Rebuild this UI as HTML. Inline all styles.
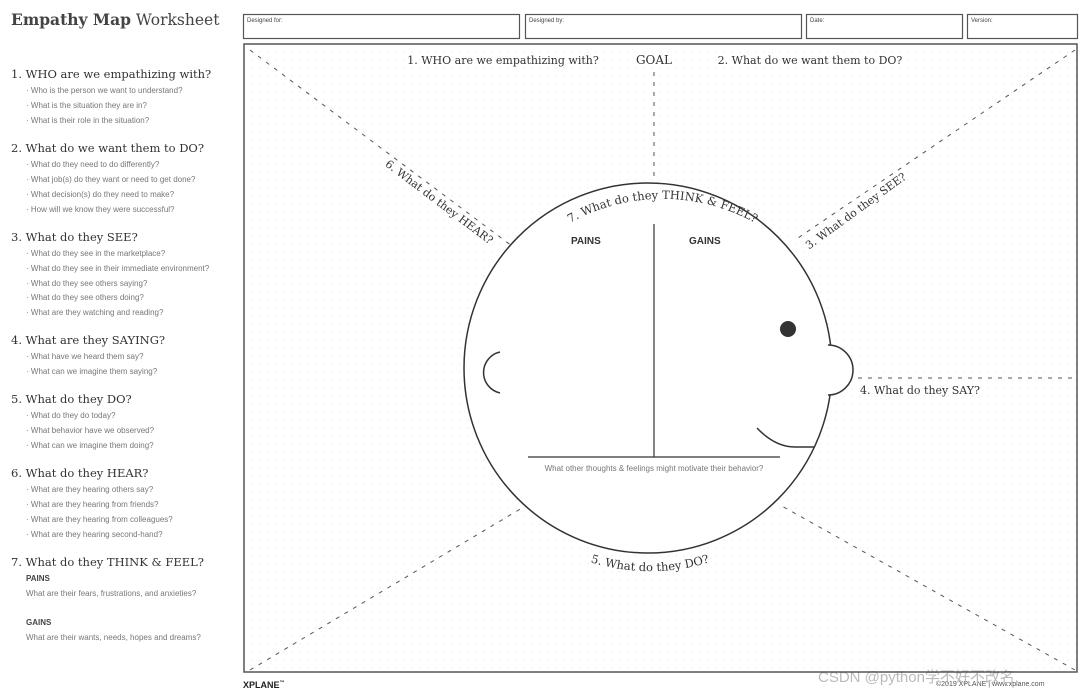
<!DOCTYPE html>
<html><head><meta charset="utf-8"><style>
body{margin:0;width:1087px;height:696px;background:#fff;position:relative;overflow:hidden;font-family:"Liberation Sans",sans-serif;color:#333}
.a{position:absolute;white-space:nowrap}
.h{font-family:"DejaVu Serif","Liberation Serif",serif;font-size:11.5px;color:#333}
.s{font-size:8px;color:#777}
.b{font-size:8px;color:#444;font-weight:bold}
</style></head><body>
<div class="a" style="left:11px;top:10px;font-family:'DejaVu Serif',serif;font-size:15.5px;color:#444"><b style="font-weight:600">Empathy Map</b> <span style="font-weight:300">Worksheet</span></div>

<div class="a h" style="left:11px;top:67px">1. WHO are we empathizing with?</div>
<div class="a s" style="left:26px;top:86px">· Who is the person we want to understand?</div>
<div class="a s" style="left:26px;top:101px">· What is the situation they are in?</div>
<div class="a s" style="left:26px;top:116px">· What is their role in the situation?</div>

<div class="a h" style="left:11px;top:141px">2. What do we want them to DO?</div>
<div class="a s" style="left:26px;top:160px">· What do they need to do differently?</div>
<div class="a s" style="left:26px;top:175px">· What job(s) do they want or need to get done?</div>
<div class="a s" style="left:26px;top:190px">· What decision(s) do they need to make?</div>
<div class="a s" style="left:26px;top:205px">· How will we know they were successful?</div>

<div class="a h" style="left:11px;top:230px">3. What do they SEE?</div>
<div class="a s" style="left:26px;top:249px">· What do they see in the marketplace?</div>
<div class="a s" style="left:26px;top:264px">· What do they see in their immediate environment?</div>
<div class="a s" style="left:26px;top:279px">· What do they see others saying?</div>
<div class="a s" style="left:26px;top:293px">· What do they see others doing?</div>
<div class="a s" style="left:26px;top:308px">· What are they watching and reading?</div>

<div class="a h" style="left:11px;top:333px">4. What are they SAYING?</div>
<div class="a s" style="left:26px;top:352px">· What have we heard them say?</div>
<div class="a s" style="left:26px;top:367px">· What can we imagine them saying?</div>

<div class="a h" style="left:11px;top:392px">5. What do they DO?</div>
<div class="a s" style="left:26px;top:411px">· What do they do today?</div>
<div class="a s" style="left:26px;top:426px">· What behavior have we observed?</div>
<div class="a s" style="left:26px;top:441px">· What can we imagine them doing?</div>

<div class="a h" style="left:11px;top:466px">6. What do they HEAR?</div>
<div class="a s" style="left:26px;top:485px">· What are they hearing others say?</div>
<div class="a s" style="left:26px;top:500px">· What are they hearing from friends?</div>
<div class="a s" style="left:26px;top:515px">· What are they hearing from colleagues?</div>
<div class="a s" style="left:26px;top:530px">· What are they hearing second-hand?</div>

<div class="a h" style="left:11px;top:555px">7. What do they THINK &amp; FEEL?</div>
<div class="a b" style="left:26px;top:574px">PAINS</div>
<div class="a s" style="left:26px;top:589px">What are their fears, frustrations, and anxieties?</div>
<div class="a b" style="left:26px;top:618px">GAINS</div>
<div class="a s" style="left:26px;top:633px">What are their wants, needs, hopes and dreams?</div>

<div class="a" style="left:243px;top:680px;font-size:9px;font-weight:bold;color:#222">XPLANE<sup style="font-size:5px">™</sup></div>
<div class="a" style="left:936px;top:681px;font-size:7px;color:#555">©2019 XPLANE | www.xplane.com</div>
<div class="a" style="left:818px;top:666px;font-size:15px;color:#bbb;font-family:'Liberation Sans','Noto Sans CJK SC',sans-serif">CSDN @python学不好不改名</div>

<svg class="a" style="left:0;top:0" width="1087" height="696">
<defs><pattern id="d" width="8" height="8" patternUnits="userSpaceOnUse"><circle cx="4" cy="4" r="0.6" fill="#e4e4e4"/></pattern>
<path id="tp" d="M 535,248 A 190,190 0 0 1 790,248"/>
<path id="bp" d="M 560,550 A 202,202 0 0 0 740,550"/></defs>
<g fill="none" stroke="#555" stroke-width="1.2">
<rect x="243.5" y="14.5" width="276" height="24"/>
<rect x="525.5" y="14.5" width="276" height="24"/>
<rect x="806.5" y="14.5" width="156" height="24"/>
<rect x="967.5" y="14.5" width="110" height="24"/>
</g>
<rect x="244" y="44" width="833" height="628" fill="url(#d)" stroke="#555" stroke-width="1.5"/>
<g font-size="6" fill="#444"><text x="247" y="22">Designed for:</text><text x="529" y="22">Designed by:</text><text x="810" y="22">Date:</text><text x="971" y="22">Version:</text></g>
<g stroke="#555" stroke-width="1" stroke-dasharray="4,6" fill="none">
<line x1="250" y1="50" x2="512" y2="246"/>
<line x1="1075" y1="50" x2="795" y2="240"/>
<line x1="250" y1="670" x2="522" y2="508"/>
<line x1="1075" y1="670" x2="780" y2="505"/>
<line x1="858" y1="378" x2="1077" y2="378"/>
<line x1="654" y1="72" x2="654" y2="182"/>
</g>
<ellipse cx="648" cy="368" rx="184" ry="185" fill="#fff" stroke="#333" stroke-width="1.5"/>
<path d="M828,345 A16,16 0 1 1 828,395" fill="#fff" stroke="#333" stroke-width="1.5"/>
<path d="M500,352 A21,21 0 0 0 500,393" fill="none" stroke="#333" stroke-width="1.5"/>
<circle cx="788" cy="329" r="8" fill="#333"/>
<path d="M757,428 Q775,447 795,447 L815,447" fill="none" stroke="#333" stroke-width="1.5"/>
<line x1="654" y1="224" x2="654" y2="457" stroke="#333" stroke-width="1.2"/>
<line x1="528" y1="457" x2="780" y2="457" stroke="#333" stroke-width="1.2"/>
<g font-family="Liberation Sans" font-weight="bold" font-size="10" fill="#333"><text x="571" y="244">PAINS</text><text x="689" y="244">GAINS</text></g>
<text x="654" y="471" font-size="8" fill="#777" text-anchor="middle">What other thoughts &amp; feelings might motivate their behavior?</text>
<g font-family="DejaVu Serif,Liberation Serif,serif" font-size="11" fill="#333">
<text x="503" y="64" text-anchor="middle">1. WHO are we empathizing with?</text>
<text x="654" y="64" text-anchor="middle" font-size="12">GOAL</text>
<text x="810" y="64" text-anchor="middle">2. What do we want them to DO?</text>
<text x="860" y="394">4. What do they SAY?</text>
<text transform="translate(437,205) rotate(37)" text-anchor="middle">6. What do they HEAR?</text>
<text transform="translate(858,214) rotate(-36)" text-anchor="middle">3. What do they SEE?</text>
<text font-size="11.5"><textPath href="#tp" startOffset="50%" text-anchor="middle">7. What do they THINK &amp; FEEL?</textPath></text>
<text font-size="11.5"><textPath href="#bp" startOffset="50%" text-anchor="middle">5. What do they DO?</textPath></text>
</g>
</svg>
</body></html>
